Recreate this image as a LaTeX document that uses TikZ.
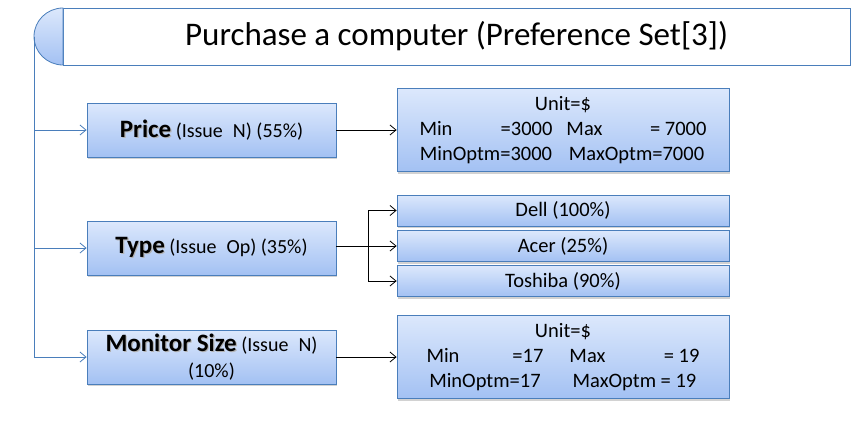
\documentclass[tikz,border=0pt]{standalone}
\usepackage{fontspec}
\setmainfont{Carlito}
\usetikzlibrary{shadows, arrows.meta}
\definecolor{boxline}{HTML}{4A7EBB}
\definecolor{boxtop}{HTML}{DCE8FC}
\definecolor{boxbot}{HTML}{A3C1F3}
\tikzset{
  issue/.style={draw=boxline, line width=0.8pt, top color=boxtop, bottom color=boxbot,
    drop shadow={shadow xshift=1.2pt, shadow yshift=-2pt, opacity=0.35},
    minimum width=249pt, minimum height=54pt, inner sep=0pt, align=center,
    font=\fontsize{20}{26}\selectfont},
  valuebox/.style={issue, minimum width=332pt, minimum height=83pt, font=\fontsize{20.5}{25}\selectfont},
  optbox/.style={issue, minimum width=332pt, minimum height=31pt, font=\fontsize{20.5}{25}\selectfont},
  branch/.style={draw=boxline, line width=0.8pt, -{Straight Barb[length=6pt, width=10pt]}},
  link/.style={draw=black, line width=0.8pt, -{Straight Barb[length=6pt, width=10pt]}}
}
\newcommand{\issname}[1]{{\fontsize{25}{26}\selectfont\bfseries
	\rlap{\hspace{1.2pt}\raisebox{-1.5pt}{\textcolor{black!30}{#1}}}#1}}
\begin{document}
\begin{tikzpicture}[x=1pt, y=-1pt]
	\useasboundingbox (0,0) rectangle (864,439);
	\fill[white] (0,0) rectangle (864,439);

	\node[draw=boxline, line width=0.8pt, fill=white, minimum width=787pt, minimum height=57pt,
		inner sep=0pt, font=\fontsize{33}{36}\selectfont] (title) at (456.5,36.5) {Purchase a computer (Preference Set[3])};
	\draw[boxline, line width=0.8pt, top color=boxtop, bottom color=boxbot]
		(63,8) .. controls (47,8) and (34,20.8) .. (34,36.5)
		.. controls (34,52.2) and (47,65) .. (63,65) -- cycle;

	\node[issue] (price) at (211.5,130) {\issname{Price} (Issue\enspace N) (55\%)};
	\node[issue] (type) at (211.5,248) {\issname{Type} (Issue\enspace Op) (35\%)};
	\node[issue] (monitor) at (211.5,357) {\issname{Monitor Size} (Issue\enspace N)\\(10\%)};

	\node[valuebox] (pricerange) at (563,130) {Unit=\$\\
		\makebox[133pt]{Min\hfill=3000}\hspace{14pt}\makebox[140pt]{Max\hfill= 7000}\\
		\makebox[133pt]{MinOptm=3000}\hspace{14pt}\makebox[140pt]{MaxOptm=7000}};
	\node[optbox] (dell) at (563,210.5) {Dell (100\%)};
	\node[optbox] (acer) at (563,246) {Acer (25\%)};
	\node[optbox] (toshiba) at (563,281) {Toshiba (90\%)};
	\node[valuebox] (monitorrange) at (563,357) {Unit=\$\\
		\makebox[117pt]{Min\hfill=17}\hspace{26pt}\makebox[130pt]{Max\hfill= 19}\\
		\makebox[117pt]{MinOptm=17}\hspace{26pt}\makebox[130pt]{MaxOptm = 19}};

	\coordinate (spine) at (34,36.5);
	\draw[branch] (spine) |- (price.west);
	\draw[branch] (spine) |- (type.west);
	\draw[branch] (spine) |- (monitor.west);

	\draw[link] (price.east) -- (pricerange.west);
	\coordinate (fork) at (368,246);
	\draw[link] (fork -| type.east) -- (fork) |- (dell.west);
	\draw[link] (fork) -- (acer.west);
	\draw[link] (fork) |- (toshiba.west);
	\draw[link] (monitor.east) -- (monitorrange.west);
\end{tikzpicture}
\end{document}
